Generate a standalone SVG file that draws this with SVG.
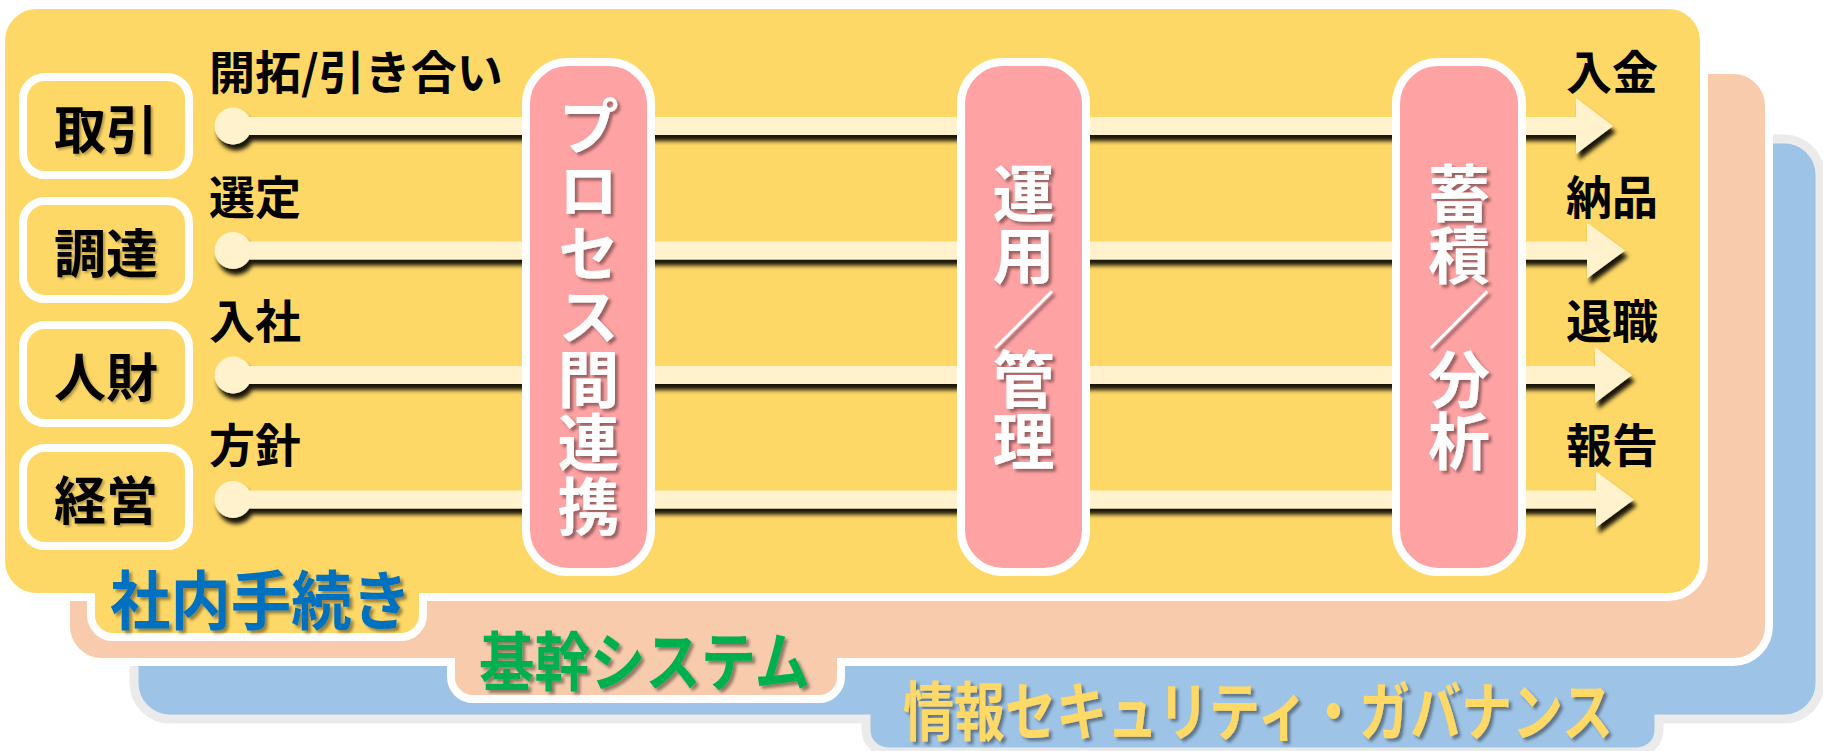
<svg xmlns="http://www.w3.org/2000/svg" width="1823" height="751" viewBox="0 0 1823 751">
<defs>
<filter id="lsh" x="-5%" y="-50%" width="110%" height="200%"><feDropShadow dx="3" dy="6" stdDeviation="2.2" flood-color="#000" flood-opacity="0.9"/></filter>
<filter id="tsh" x="-10%" y="-20%" width="120%" height="140%"><feDropShadow dx="3" dy="3" stdDeviation="1.5" flood-color="#000" flood-opacity="0.4"/></filter>
<filter id="bsh" x="-10%" y="-20%" width="120%" height="140%"><feDropShadow dx="2" dy="2" stdDeviation="1.2" flood-color="#000" flood-opacity="0.3"/></filter>
</defs>
<style>
.jp{font-family:"Noto Sans CJK JP","Noto Sans CJK SC",sans-serif;font-weight:700}
.lbl{font-size:46px;fill:#000}
.box{fill:#FED866;stroke:#fff;stroke-width:8}
.boxt{font-size:52px;fill:#000;text-anchor:middle;dominant-baseline:central}
.pil{fill:#FFA2A3;stroke:#fff;stroke-width:8}
.pt{font-size:62px;fill:#fff;text-anchor:middle}
.vt{writing-mode:vertical-rl;text-orientation:upright}
.ht{dominant-baseline:central}
.ln{fill:#FFF2CC}
</style>
<g id="panel-security">
<path d="M134,175 A36,36 0 0 1 170,139 H1784 A36,36 0 0 1 1820,175 V683 A36,36 0 0 1 1784,719 H1659 V730 A22,22 0 0 1 1637,752 H888 A22,22 0 0 1 866,730 V719 H170 A36,36 0 0 1 134,683 Z" fill="#9DC3E6" stroke="#EBEBEB" stroke-width="9"/>
<text class="jp" x="903" y="707" font-size="64" fill="#FFD966" dominant-baseline="central" textLength="710" lengthAdjust="spacingAndGlyphs" filter="url(#tsh)">情報セキュリティ・ガバナンス</text>
</g>
<g id="panel-core">
<path d="M66,106 A36,36 0 0 1 102,70 H1733 A36,36 0 0 1 1769,106 V626 A36,36 0 0 1 1733,662 H841 V677 A22,22 0 0 1 819,699 H473 A22,22 0 0 1 451,677 V662 H102 A36,36 0 0 1 66,626 Z" fill="#F8CBAD" stroke="#fff" stroke-width="8"/>
<text class="jp" x="479" y="657" font-size="64" fill="#00B050" dominant-baseline="central" textLength="331" lengthAdjust="spacingAndGlyphs" filter="url(#tsh)">基幹システム</text>
</g>
<g id="panel-internal">
<path d="M1,41 A36,36 0 0 1 37,5 H1668 A36,36 0 0 1 1704,41 V561 A36,36 0 0 1 1668,597 H423 V615 A22,22 0 0 1 401,637 H113 A22,22 0 0 1 91,615 V597 H37 A36,36 0 0 1 1,561 Z" fill="#FED866" stroke="#fff" stroke-width="8"/>
<text class="jp" x="110" y="596" font-size="64" fill="#0070C0" dominant-baseline="central" textLength="302" lengthAdjust="spacingAndGlyphs" filter="url(#tsh)">社内手続き</text>
</g>
<g id="connectors" filter="url(#lsh)">
<path class="ln" d="M233,117 H1576 V98 L1613,126 L1576,154 V135 H233 Z"/><circle class="ln" cx="233" cy="126" r="18.5"/>
<path class="ln" d="M233,241.5 H1587 V222.5 L1625,250.5 L1587,278.5 V259.5 H233 Z"/><circle class="ln" cx="233" cy="250.5" r="18.5"/>
<path class="ln" d="M233,366 H1595 V347 L1632,375 L1595,403 V384 H233 Z"/><circle class="ln" cx="233" cy="375" r="18.5"/>
<path class="ln" d="M233,490.5 H1596 V471.5 L1634,499.5 L1596,527.5 V508.5 H233 Z"/><circle class="ln" cx="233" cy="499.5" r="18.5"/>
</g>
<g id="labels-left" class="jp lbl" dominant-baseline="central">
<text x="209" y="69">開拓/引き合い</text>
<text x="209" y="194">選定</text>
<text x="209" y="318">入社</text>
<text x="209" y="442">方針</text>
</g>
<g id="labels-right" class="jp lbl" dominant-baseline="central">
<text x="1566" y="69">入金</text>
<text x="1566" y="194">納品</text>
<text x="1566" y="318">退職</text>
<text x="1566" y="442">報告</text>
</g>
<g id="node-torihiki"><rect class="box" x="23" y="77" width="166" height="98" rx="22"/><text class="jp boxt" x="106" y="126" filter="url(#bsh)">取引</text></g>
<g id="node-chotatsu"><rect class="box" x="23" y="201" width="166" height="98" rx="22"/><text class="jp boxt" x="106" y="250" filter="url(#bsh)">調達</text></g>
<g id="node-jinzai"><rect class="box" x="23" y="325" width="166" height="98" rx="22"/><text class="jp boxt" x="106" y="374" filter="url(#bsh)">人財</text></g>
<g id="node-keiei"><rect class="box" x="23" y="448" width="166" height="98" rx="22"/><text class="jp boxt" x="106" y="497" filter="url(#bsh)">経営</text></g>
<g id="node-process">
<rect class="pil" x="526" y="62" width="125" height="510" rx="42"/>
<text class="jp pt vt" x="588.5" y="317" letter-spacing="1.2" filter="url(#tsh)">プロセス間連携</text>
</g>
<g id="node-operation">
<rect class="pil" x="961" y="62" width="125" height="510" rx="42"/>
<text class="jp pt vt" x="1023.5" y="224" filter="url(#tsh)">運用</text>
<text class="jp pt ht" x="1023.5" y="317" filter="url(#tsh)">／</text>
<text class="jp pt vt" x="1023.5" y="410" filter="url(#tsh)">管理</text>
</g>
<g id="node-analysis">
<rect class="pil" x="1396" y="62" width="126" height="510" rx="42"/>
<text class="jp pt vt" x="1459" y="224" filter="url(#tsh)">蓄積</text>
<text class="jp pt ht" x="1459" y="317" filter="url(#tsh)">／</text>
<text class="jp pt vt" x="1459" y="410" filter="url(#tsh)">分析</text>
</g>
</svg>
